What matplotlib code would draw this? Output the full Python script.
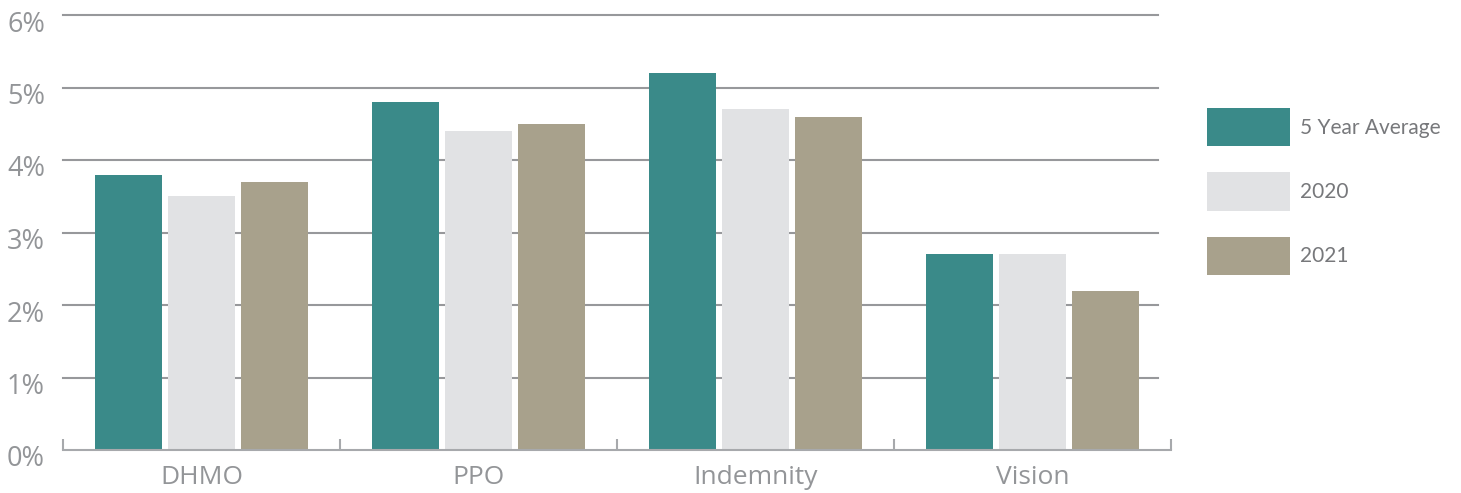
import matplotlib
matplotlib.use("Agg")
import matplotlib.pyplot as plt
import matplotlib.transforms as mtransforms
import numpy as np

categories = ["DHMO", "PPO", "Indemnity", "Vision"]
series_names = ["5 Year Average", "2020", "2021"]
avg5 = [3.8, 4.8, 5.2, 2.7]
y2020 = [3.5, 4.4, 4.7, 2.7]
y2021 = [3.7, 4.5, 4.6, 2.2]
yticks = [0, 1, 2, 3, 4, 5, 6]
ytick_labels = ["0%", "1%", "2%", "3%", "4%", "5%", "6%"]

colors = ["#3A8A89", "#E1E2E4", "#A8A18C"]
text_grey = "#939598"
grid_grey = "#97989B"

plt.rcParams['font.family'] = ['Open Sans', 'DejaVu Sans']

fig = plt.figure(figsize=(14.61, 4.93), dpi=100)
ax = fig.add_axes([63/1461, 43/493, (1171-63)/1461, (450-15)/493])

x = np.arange(len(categories))
offset = 0.265
width = 0.242
for i, (vals, name) in enumerate(zip([avg5, y2020, y2021], series_names)):
    ax.bar(x + (i - 1) * offset, vals, width, color=colors[i], label=name, zorder=3)

ax.set_xlim(-0.5, 3.5)
ax.set_ylim(0, 6)

# gridlines
for yv in yticks[1:]:
    ax.axhline(yv, xmin=0, xmax=(1158-63)/(1171-63), color=grid_grey, lw=1.5, zorder=1, clip_on=False)

for s in ["top", "right", "left"]:
    ax.spines[s].set_visible(False)
ax.spines["bottom"].set_color("#A7A9AC")
ax.spines["bottom"].set_linewidth(1.5)
ax.spines["bottom"].set_zorder(4)

ax.set_yticks(yticks)
ax.set_yticklabels(ytick_labels)
ax.tick_params(axis="y", length=0, pad=13, labelsize=19.5, labelcolor=text_grey)
dy = mtransforms.ScaledTranslation(0, -6/100, fig.dpi_scale_trans)
for lab in ax.get_yticklabels():
    lab.set_transform(lab.get_transform() + dy)

ax.set_xticks(x)
ax.set_xticklabels(categories)
ax.tick_params(axis="x", which="major", length=0, pad=11, labelsize=19, labelcolor=text_grey)
ax.set_xticks(np.arange(-0.5, 4.0, 1.0), minor=True)
ax.tick_params(axis="x", which="minor", direction="in", length=8, width=1.5, color="#A7A9AC")

fs = 15
leg = ax.legend(loc="upper left", bbox_to_anchor=((1207-63)/(1171-63), (450-108)/(450-15)),
                frameon=False, handlelength=83/(fs*100/72), handleheight=2.45,
                labelspacing=1.25, handletextpad=0.5, borderaxespad=0, borderpad=0,
                prop={"family": ["Lato", "DejaVu Sans"], "size": fs})
for t in leg.get_texts():
    t.set_color("#77787B")

fig.savefig("out.png", dpi=100)
